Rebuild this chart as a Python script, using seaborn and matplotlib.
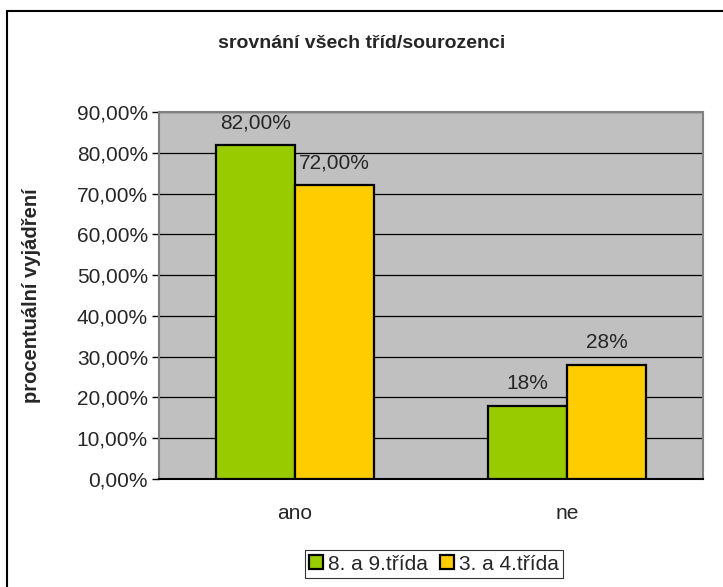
import pandas as pd
import matplotlib.pyplot as plt
import seaborn as sns
from matplotlib.patches import Rectangle, Patch
from matplotlib.ticker import FuncFormatter

categories = ["ano", "ne"]
groups = ["8. a 9.třída", "3. a 4.třída"]
values_89 = [0.82, 0.18]
values_34 = [0.72, 0.28]
labels_89 = ["82,00%", "18%"]
labels_34 = ["72,00%", "28%"]
colors = ["#99CC00", "#FFCC00"]

df = pd.DataFrame({
    "kategorie": categories * 2,
    "skupina": [groups[0]] * 2 + [groups[1]] * 2,
    "hodnota": values_89 + values_34,
})

sns.set_theme(style="white")
plt.rcParams['font.family'] = ['Liberation Sans', 'DejaVu Sans']

fig = plt.figure(figsize=(7.23, 5.87), dpi=100)
ax = fig.add_axes([159 / 723, 1 - 479 / 587, 544 / 723, 367 / 587])

sns.barplot(data=df, x="kategorie", y="hodnota", hue="skupina", palette=colors,
            width=0.58, edgecolor="black", linewidth=1.6, ax=ax, legend=False,
            saturation=1, zorder=3)

ax.set_facecolor("#C0C0C0")
ax.set_ylim(0, 0.9)
ax.set_yticks([i / 10 for i in range(10)])
ax.yaxis.set_major_formatter(FuncFormatter(lambda v, p: f"{v * 100:.2f}%".replace(".", ",")))
ax.grid(axis="y", color="black", linewidth=0.9, zorder=1)
ax.set_axisbelow(True)
for s in ["top", "right", "left"]:
    ax.spines[s].set_color("#808080")
    ax.spines[s].set_linewidth(1.5)
ax.spines["bottom"].set_color("black")
ax.spines["bottom"].set_linewidth(1.5)
ax.tick_params(axis="y", direction="out", length=5, width=1, color="black",
               labelsize=15, left=True, pad=3)
ax.tick_params(axis="x", length=0, labelsize=15, pad=18)

ax.set_xlabel("")
ax.set_ylabel("procentuální vyjádření", fontsize=14.5, fontweight="bold", labelpad=26)

for cont, labs in zip(ax.containers, [labels_89, labels_34]):
    ax.bar_label(cont, labels=labs, padding=9, fontsize=15)

fig.text(0.5, 1 - 43 / 587, "srovnání všech tříd/sourozenci", ha="center",
         va="center", fontsize=14, fontweight="bold")

handles = [Patch(facecolor=c, edgecolor="black", linewidth=1.6) for c in colors]
leg = fig.legend(handles, groups, loc="center", bbox_to_anchor=(434 / 723, 1 - 564 / 587),
                 ncol=2, fontsize=15, frameon=True, fancybox=False, handlelength=0.65,
                 handleheight=0.65, handletextpad=0.25, columnspacing=0.6,
                 borderpad=0.2, edgecolor="black")
leg.get_frame().set_linewidth(0.8)

fig.patches.append(Rectangle((7 / 723, -0.05), 1.1, 1 - 11 / 587 + 0.05,
                             transform=fig.transFigure, fill=False,
                             edgecolor="black", linewidth=1.5))

fig.savefig("out.png", dpi=100)
